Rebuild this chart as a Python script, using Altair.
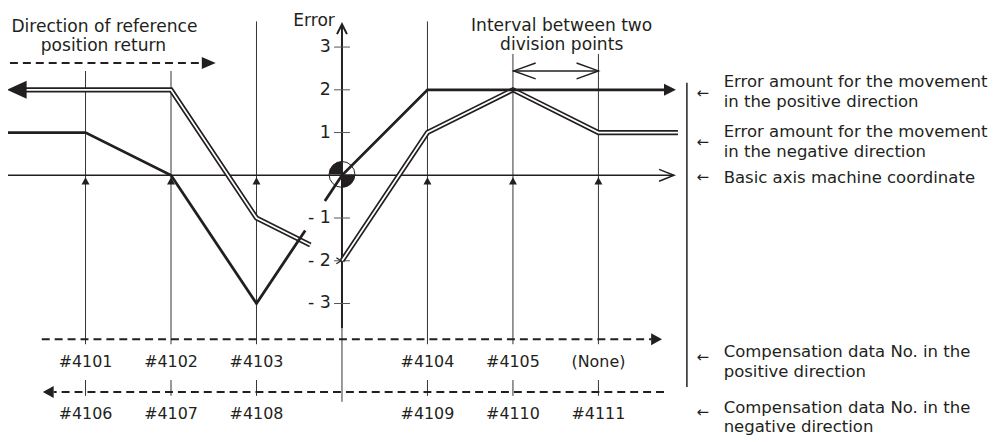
import altair as alt
import pandas as pd

# ---------------- data ----------------
division_points = [-3, -2, -1, 1, 2, 3]
division_tops = [2.44, 2.44, 3.6, 3.6, 2.84, 2.84]
comp_pos_labels = ["#4101", "#4102", "#4103", "#4104", "#4105", "(None)"]
comp_neg_labels = ["#4106", "#4107", "#4108", "#4109", "#4110", "#4111"]
y_tick_values = [3, 2, 1, -1, -2, -3]
y_tick_labels = ["3", "2", "1", "- 1", "- 2", "- 3"]

# error amount for the movement in the positive direction (thick line), broken near origin
pos_seg = [0, 0, 0, 0, 0, 1, 1, 1, 1, 1, 1]
pos_x = [-3.92, -3, -2, -1, -0.43, -0.2, 0, 1, 2, 3, 3.8]
pos_y = [1, 1, 0, -3, -1.29, -0.6, 0, 2, 2, 2, 2]

# error amount for the movement in the negative direction (double line)
neg_seg = [0, 0, 0, 0, 0, 1, 1, 1, 1, 1]
neg_x = [-3.75, -3, -2, -1, -0.37, 0, 1, 2, 3, 3.93]
neg_y = [2, 2, 2, -1, -1.63, -2, 1, 2, 1, 1]

legend_lines = ["Error amount for the movement", "in the positive direction",
                "Error amount for the movement", "in the negative direction",
                "Basic axis machine coordinate",
                "Compensation data No. in the", "positive direction",
                "Compensation data No. in the", "negative direction"]
legend_y = [2.06, 1.593, 0.897, 0.430, -0.186, -4.256, -4.709, -5.558, -6.012]
legend_arrow_y = [1.93, 0.767, -0.047, -4.256, -5.535]

# ---------------- scales ----------------
W, H = 997, 430
X_MIN, X_MAX = -336 / 86, (W - 336) / 86
Y_MIN, Y_MAX = (167 - H) / 43, 167 / 43
xs = alt.Scale(domain=[X_MIN, X_MAX], nice=False, zero=False)
ys = alt.Scale(domain=[Y_MIN, Y_MAX], nice=False, zero=False)
INK = "#231f20"
FONT = "DejaVu Sans"


def rules(rows, **props):
    df = pd.DataFrame(rows, columns=["x", "y", "x2", "y2"])
    return alt.Chart(df).mark_rule(color=props.pop("color", INK), **props).encode(
        x=alt.X("x:Q", scale=xs, axis=None), y=alt.Y("y:Q", scale=ys, axis=None),
        x2="x2:Q", y2="y2:Q")


def points(rows, shape, size, filled=True, color=INK, sw=1.5):
    df = pd.DataFrame(rows, columns=["x", "y"])
    if filled:
        m = alt.Chart(df).mark_point(shape=shape, size=size, filled=True, fill=color,
                                     strokeWidth=0, opacity=1)
    else:
        m = alt.Chart(df).mark_point(shape=shape, size=size, filled=False, stroke=color,
                                     strokeWidth=sw, opacity=1, strokeJoin="miter")
    return m.encode(x=alt.X("x:Q", scale=xs, axis=None), y=alt.Y("y:Q", scale=ys, axis=None))


def texts(rows, align="left", size=17, baseline="alphabetic", color=INK):
    df = pd.DataFrame(rows, columns=["x", "y", "t"])
    return alt.Chart(df).mark_text(align=align, baseline=baseline, font=FONT, fontSize=size,
                                   color=color).encode(
        x=alt.X("x:Q", scale=xs, axis=None), y=alt.Y("y:Q", scale=ys, axis=None), text="t:N")


def polyline(xv, yv, seg, width, color):
    df = pd.DataFrame({"x": xv, "y": yv, "seg": seg, "i": list(range(len(xv)))})
    return alt.Chart(df).mark_line(color=color, strokeWidth=width, strokeJoin="miter",
                                   strokeCap="butt").encode(
        x=alt.X("x:Q", scale=xs, axis=None), y=alt.Y("y:Q", scale=ys, axis=None),
        detail="seg:N", order="i:Q")


layers = []

# division point verticals
layers.append(rules([[d, t, d, -3.953] for d, t in zip(division_points, division_tops)],
                    strokeWidth=1, color="#333333"))
# short ticks crossing the negative compensation arrow
layers.append(rules([[d, -4.79, d, -5.16] for d in division_points], strokeWidth=1, color="#333333"))
# vertical axis (thin lower part, thick upper part)
layers.append(rules([[0, -3.58, 0, -5.30]], strokeWidth=1, color="#333333"))
layers.append(rules([[0, -3.58, 0, 3.52]], strokeWidth=2))
# horizontal axis
layers.append(rules([[X_MIN, 0, 3.88, 0]], strokeWidth=1.5))
# y ticks
layers.append(rules([[-0.093, v, 0.093, v] for v in y_tick_values], strokeWidth=1, color="#555555"))
# separator
layers.append(rules([[4.035, 2.163, 4.035, -4.953]], strokeWidth=1.5))
# interval line
layers.append(rules([[2.0, 2.442, 3.0, 2.442]], strokeWidth=1.5))

# dashed direction arrows
layers.append(rules([[-3.884, 2.628, -1.63, 2.628]], strokeWidth=2, strokeDash=[8, 5]))
layers.append(rules([[-3.512, -3.837, 3.62, -3.837]], strokeWidth=2, strokeDash=[8, 5]))
layers.append(rules([[3.767, -5.07, -3.37, -5.07]], strokeWidth=2, strokeDash=[8, 5]))

# small triangles on the basic axis
layers.append(points([[d, -0.14] for d in division_points], "M0,-1L1,0.8L-1,0.8Z", 64))

# double line (negative direction)
layers.append(polyline(neg_x, neg_y, neg_seg, 5.2, INK))
layers.append(polyline(neg_x, neg_y, neg_seg, 1.8, "white"))
# small break mark at the start of the right part of the double line
layers.append(points([[-0.01, -2.0]], "M-1.6,-1L0,0L-1.6,1", 36, filled=False, sw=1.2))

# origin symbol
layers.append(points([[0, 0.02]], "M0,0L-1,0A1,1 0 0,1 0,-1Z", 676))
layers.append(points([[0, 0.02]], "M0,0L1,0A1,1 0 0,1 0,1Z", 676))
layers.append(points([[0, 0.02]], "circle", 676, filled=False, sw=1))

# thick line (positive direction)
layers.append(polyline(pos_x, pos_y, pos_seg, 2.8, INK))

# filled arrowheads
layers.append(points([[-1.477, 2.628]], "M0,0L-2,-0.85L-2,0.85Z", 196))
layers.append(points([[3.744, -3.837]], "M0,0L-1.83,-1L-1.83,1Z", 144))
layers.append(points([[-3.5, -5.07]], "M0,0L1.83,-1L1.83,1Z", 144))
layers.append(points([[3.907, 2]], "M0,0L-2,-1L-2,1Z", 144))
layers.append(points([[-3.919, 2]], "M0,0L2.2,-1L2.2,1Z", 324))

# open arrowheads
layers.append(points([[3.884, 0]], "M-2.5,-1L0,0L-2.5,1", 144, filled=False, sw=1.5))
layers.append(points([[0, 3.535]], "M-1,2L0,0L1,2", 100, filled=False, sw=2))
layers.append(points([[2.01, 2.442]], "M2.75,-1L0,0L2.75,1", 256, filled=False, sw=1.5))
layers.append(points([[3.0, 2.442]], "M-2.75,-1L0,0L-2.75,1", 256, filled=False, sw=1.5))

# texts
layers.append(texts([[-2.779, 3.349, "Direction of reference"],
                     [-2.791, 2.907, "position return"],
                     [2.57, 3.372, "Interval between two"],
                     [2.57, 2.93, "division points"]], align="center", size=17.2))
layers.append(texts([[-0.57, 3.488, "Error"]], align="left", size=17.2))
layers.append(texts([[-0.13, v - 0.116, t] for v, t in zip(y_tick_values, y_tick_labels)],
                    align="right", size=17.5))
layers.append(texts([[d, -4.488, t] for d, t in zip(division_points, comp_pos_labels)],
                    align="center", size=16))
layers.append(texts([[d, -5.698, t] for d, t in zip(division_points, comp_neg_labels)],
                    align="center", size=16))
layers.append(texts([[4.465, y, t] for y, t in zip(legend_y, legend_lines)], align="left", size=16.6))
layers.append(texts([[4.221, y, "\u2190"] for y in legend_arrow_y], align="center", size=15,
                    baseline="middle"))

chart = alt.layer(*layers).properties(
    width=W, height=H, autosize=alt.AutoSizeParams(type="none"), padding=0,
    background="white"
).configure_view(stroke=None)

chart.save("out.html", embed_options={"renderer": "svg", "actions": False})
